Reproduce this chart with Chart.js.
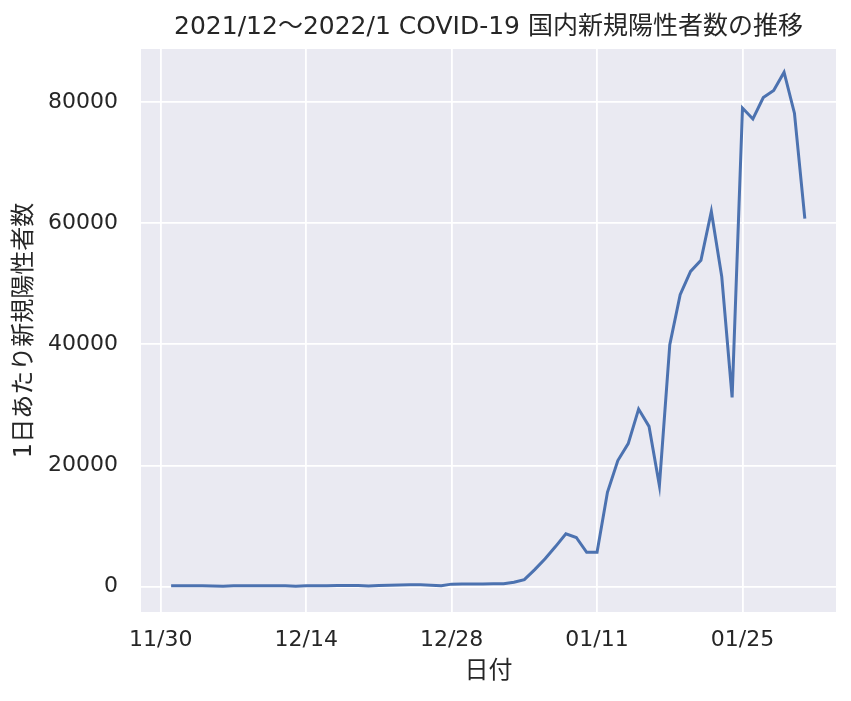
<!DOCTYPE html>
<html>
<head>
<meta charset="utf-8">
<script src="https://cdn.jsdelivr.net/npm/chart.js@4"></script>
<style>
  html, body { margin: 0; padding: 0; background: #fff; }
  #wrap { width: 851px; height: 701px; }
</style>
</head>
<body>
<div id="wrap"><canvas id="covidChart" width="851" height="701"></canvas></div>
<script>
// 日付 (2021/12/01 - 2022/01/31)
const decDays = Array.from({length: 31}, (_, i) => '12/' + String(i + 1).padStart(2, '0'));
const janDays = Array.from({length: 31}, (_, i) => '01/' + String(i + 1).padStart(2, '0'));
const days = decDays.concat(janDays);

// 新規陽性者数
const decCases = [124, 130, 120, 130, 110, 60, 120, 150, 140, 130, 120, 120, 60, 120, 150, 150,
  180, 170, 160, 90, 160, 220, 260, 280, 280, 230, 150, 400, 420, 420, 430];
const janCases = [450, 450, 700, 1150, 2800, 4600, 6600, 8700, 8100, 5660, 5660, 15560, 20800,
  23600, 29300, 26450, 16670, 39930, 48180, 52030, 53850, 61930, 51200, 31240, 79000, 77200,
  80740, 81900, 84930, 78160, 60730];
const cases = decCases.concat(janCases);

// 目盛り (11/30 からの日数)
const xTickDays = [0, 14, 28, 42, 56];
const xTickLabels = ['11/30', '12/14', '12/28', '01/11', '01/25'];
const yTicks = [0, 20000, 40000, 60000, 80000];

const titleText = '2021/12～2022/1 COVID-19 国内新規陽性者数の推移';
const FONT = "'DejaVu Sans', 'Noto Sans CJK JP', sans-serif";
const TEXT = '#262626';

const points = cases.map((v, i) => ({x: i + 1, y: v}));

// 背景 + タイトル
const bgPlugin = {
  id: 'bg',
  beforeDraw(chart) {
    const {ctx, chartArea: a} = chart;
    ctx.save();
    ctx.fillStyle = '#EAEAF2';
    ctx.fillRect(a.left, a.top, a.right - a.left, a.bottom - a.top);
    ctx.restore();
  },
  afterDraw(chart) {
    const {ctx, chartArea: a} = chart;
    ctx.save();
    ctx.fillStyle = TEXT;
    ctx.font = '25px ' + FONT;
    ctx.textAlign = 'center';
    ctx.textBaseline = 'middle';
    ctx.fillText(titleText, (a.left + a.right) / 2, 27);
    ctx.restore();
  }
};

const config = {
  type: 'line',
  data: {
    datasets: [{
      data: points,
      borderColor: '#4C72B0',
      borderWidth: 3,
      pointRadius: 0,
      tension: 0,
      fill: false
    }]
  },
  options: {
    responsive: false,
    animation: false,
    layout: { padding: { top: 49, right: 15, left: 0, bottom: 0 } },
    plugins: { legend: { display: false }, tooltip: { enabled: false } },
    scales: {
      x: {
        type: 'linear',
        min: -1.9,
        max: 65.0,
        border: { display: false },
        grid: { color: '#ffffff', lineWidth: 1.8, drawTicks: false },
        afterBuildTicks(scale) { scale.ticks = xTickDays.map(v => ({value: v})); },
        afterFit(scale) { scale.height = 89; },
        ticks: {
          color: TEXT,
          font: { family: FONT, size: 22 },
          padding: 15,
          maxRotation: 0,
          callback: (v) => xTickLabels[xTickDays.indexOf(v)]
        },
        title: {
          display: true, text: '日付', color: TEXT,
          font: { family: FONT, size: 24 },
          padding: { top: 0, bottom: 15 }
        }
      },
      y: {
        min: -4200,
        max: 88750,
        border: { display: false },
        grid: { color: '#ffffff', lineWidth: 1.8, drawTicks: false },
        afterBuildTicks(scale) { scale.ticks = yTicks.map(v => ({value: v})); },
        afterFit(scale) { scale.width = 141; },
        ticks: {
          color: TEXT,
          font: { family: FONT, size: 22 },
          padding: 23,
          callback: (v) => String(v)
        },
        title: {
          display: true, text: '1日あたり新規陽性者数', color: TEXT,
          font: { family: FONT, size: 24 },
          padding: { top: 10, bottom: 0 }
        }
      }
    }
  },
  plugins: [bgPlugin]
};

const ctx = document.getElementById('covidChart').getContext('2d');
new Chart(ctx, config);
</script>
</body>
</html>
